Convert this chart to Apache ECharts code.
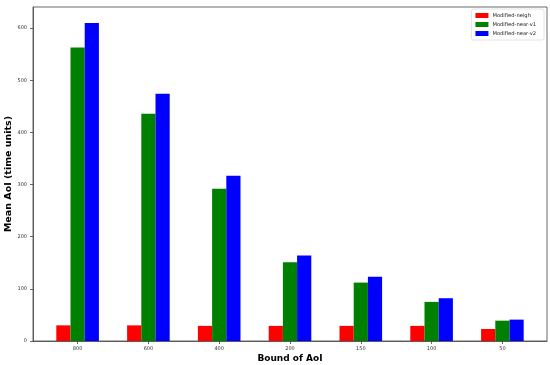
<!DOCTYPE html>
<html>
<head>
<meta charset="utf-8">
<script src="https://cdn.jsdelivr.net/npm/echarts@6/dist/echarts.min.js"></script>
<style>html,body{margin:0;padding:0;background:#fff}#c{width:550px;height:365px}</style>
</head>
<body>
<div id="c"></div>
<script>
const categories = ['800', '600', '400', '200', '150', '100', '50'];
const seriesNames = ['Modified-neigh', 'Modified-near-v1', 'Modified-near-v2'];
const neighValues = [30, 30, 29, 29, 29, 29, 23];
const nearV1Values = [563, 436, 292, 151, 112, 75, 39];
const nearV2Values = [610, 474, 317, 164, 123, 82, 41];
const yTicks = [0, 100, 200, 300, 400, 500, 600];

const colors = ['#ff0000', '#008000', '#0000ff'];
const allValues = [neighValues, nearV1Values, nearV2Values];
const idx = categories.map((_, i) => i);

const chart = echarts.init(document.getElementById('c'), null, {renderer: 'canvas'});
const font = 'DejaVu Sans';
chart.setOption({
  animation: false,
  backgroundColor: '#fff',
  textStyle: {fontFamily: font},
  grid: {left: 33, right: 3, top: 7, bottom: 24, show: true, borderColor: '#444', borderWidth: 0.8, containLabel: false, outerBoundsMode: 'none'},
  legend: {
    orient: 'vertical', right: 6, top: 9,
    itemWidth: 13, itemHeight: 5, itemGap: 4,
    padding: [4, 8, 4, 4],
    borderColor: '#ddd', borderWidth: 0.8, borderRadius: 2,
    textStyle: {fontSize: 5.2, fontFamily: font, color: '#222', padding: [0, 0, 0, -1]},
    icon: 'rect',
    data: seriesNames
  },
  xAxis: {
    type: 'value', min: -0.63, max: 6.63,
    name: 'Bound of AoI', nameLocation: 'middle', nameGap: 13, nameMoveOverlap: false,
    nameTextStyle: {fontSize: 9, fontWeight: 'bold', color: '#000', fontFamily: font},
    axisLine: {show: true, onZero: false, lineStyle: {color: '#444', width: 0.8}},
    axisTick: {show: true, length: 3, customValues: idx, lineStyle: {color: '#444', width: 0.8}},
    axisLabel: {customValues: idx, fontSize: 5, color: '#333', margin: 5, formatter: v => categories[Math.round(v)]},
    splitLine: {show: false}
  },
  yAxis: {
    type: 'value', min: 0, max: 640.5,
    name: 'Mean AoI (time units)', nameLocation: 'middle', nameGap: 19, nameMoveOverlap: false,
    nameTextStyle: {fontSize: 9.5, fontWeight: 'bold', color: '#000', fontFamily: font},
    axisLine: {show: true, onZero: false, lineStyle: {color: '#444', width: 0.8}},
    axisTick: {show: true, length: 3, customValues: yTicks, lineStyle: {color: '#444', width: 0.8}},
    axisLabel: {customValues: yTicks, fontSize: 5, color: '#333', margin: 6},
    splitLine: {show: false}
  },
  series: seriesNames.map((n, s) => ({
    name: n, type: 'bar',
    barWidth: 14.2, barGap: '0%',
    itemStyle: {color: colors[s]},
    data: allValues[s].map((v, i) => [i, v])
  }))
});
</script>
</body>
</html>
